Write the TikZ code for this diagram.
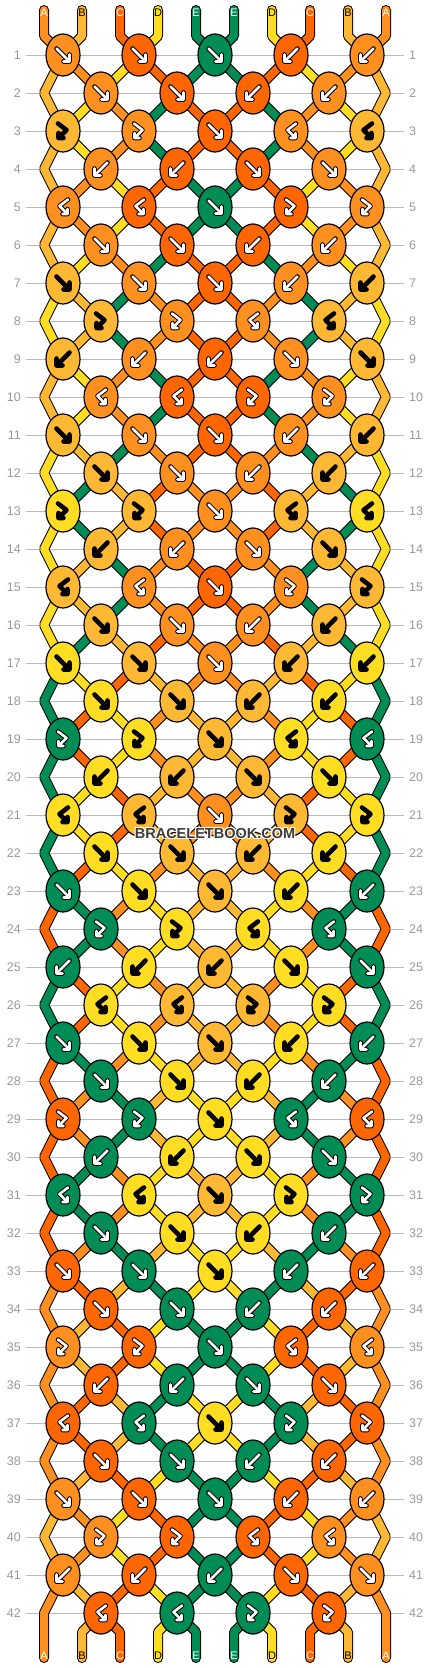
\documentclass[tikz,border=0pt]{standalone}
\usepackage{fontspec}
\setmainfont{Liberation Sans}
\usetikzlibrary{shapes.geometric}
\definecolor{cA}{HTML}{FF9020}
\definecolor{cB}{HTML}{FFB833}
\definecolor{cC}{HTML}{FF6600}
\definecolor{cD}{HTML}{FFDD22}
\definecolor{cE}{HTML}{008C55}
\colorlet{acA}{white}
\colorlet{acB}{black}
\colorlet{acC}{white}
\colorlet{acD}{black}
\colorlet{acE}{white}
\definecolor{rowgrey}{HTML}{BBBBBB}
\definecolor{numgrey}{HTML}{999999}
\definecolor{wmgrey}{HTML}{3C3C3C}
\pgfdeclarelayer{background}
\pgfsetlayers{background,main}
\def\parseS#1#2#3#4#5#6#7#8#9{%
 \expandafter\gdef\csname SL1\endcsname{#1}%
 \expandafter\gdef\csname SL2\endcsname{#2}%
 \expandafter\gdef\csname SL3\endcsname{#3}%
 \expandafter\gdef\csname SL4\endcsname{#4}%
 \expandafter\gdef\csname SL5\endcsname{#5}%
 \expandafter\gdef\csname SL6\endcsname{#6}%
 \expandafter\gdef\csname SL7\endcsname{#7}%
 \expandafter\gdef\csname SL8\endcsname{#8}%
 \expandafter\gdef\csname SL9\endcsname{#9}%
 \parseSx}
\def\parseSx#1{\expandafter\gdef\csname SL10\endcsname{#1}}
\def\parseT#1#2#3#4#5{%
 \expandafter\gdef\csname TY1\endcsname{#1}%
 \expandafter\gdef\csname TY2\endcsname{#2}%
 \expandafter\gdef\csname TY3\endcsname{#3}%
 \expandafter\gdef\csname TY4\endcsname{#4}%
 \expandafter\gdef\csname TY5\endcsname{#5}}
\newcommand\kgf[1]{\draw[gin=#1] (-6.5,-6.5) -- (6.5,6.5) (6.5,-0.5) -- (6.5,6.5) -- (0.5,6.5);}
\newcommand\kgb[1]{\draw[gin=#1] (6.5,-6.5) -- (-6.5,6.5) (-6.5,-0.5) -- (-6.5,6.5) -- (-0.5,6.5);}
\newcommand\kgF[1]{\draw[gin=#1] (-5,-7.5) -- (3.5,-1) -- (-4.5,7) (0.5,7) -- (-4.5,7) -- (-4.5,2);}
\newcommand\kgB[1]{\draw[gin=#1] (5,-7.5) -- (-3.5,-1) -- (4.5,7) (-0.5,7) -- (4.5,7) -- (4.5,2);}
\def\rowdata{1/fffbb/BADCEECDAB,2/ffbbx/BDAECCEADB,3/FFfBB/BDAECCEADB,4/bbffx/BADCEECDAB,
5/BBfFF/BADCEECDAB,6/ffbbx/BDAECCEADB,7/fffbb/DBEACCAEBD,8/FFBBx/DBEACCAEBD,
9/bbbff/BDAECCEADB,10/BBFFx/BDAECCEADB,11/fffbb/DBEACCAEBD,12/ffbbx/DEBCAACBED,
13/FFfBB/DEBCAACBED,14/bbffx/DBEACCAEBD,15/BBfFF/DBEACCAEBD,16/ffbbx/DEBCAACBED,
17/fffbb/EDCBAABCDE,18/ffbbx/ECDABBADCE,19/FFfBB/ECDABBADCE,20/bbffx/EDCBAABCDE,
21/BBfFF/EDCBAABCDE,22/ffbbx/ECDABBADCE,23/fffbb/CEADBBDAEC,24/FFBBx/CEADBBDAEC,
25/bbbff/ECDABBADCE,26/BBFFx/ECDABBADCE,27/fffbb/CEADBBDAEC,28/ffbbx/CAEBDDBEAC,
29/FFfBB/CAEBDDBEAC,30/bbffx/CEADBBDAEC,31/BBfFF/CEADBBDAEC,32/ffbbx/CAEBDDBEAC,
33/fffbb/ACBEDDEBCA,34/ffbbx/ABCDEEDCBA,35/FFfBB/ABCDEEDCBA,36/bbffx/ACBEDDEBCA,
37/BBfFF/ACBEDDEBCA,38/ffbbx/ABCDEEDCBA,39/fffbb/BADCEECDAB,40/FFBBx/BADCEECDAB,
41/bbbff/ABCDEEDCBA,42/BBFFx/ABCDEEDCBA}
\begin{document}
\begin{tikzpicture}[x=1pt,y=-1pt,
  knot/.style={ellipse, draw=black, line width=1.2pt, minimum width=34pt, minimum height=42pt, inner sep=0pt},
  str/.style={draw=black, line width=1pt, double=#1, double distance=8pt, line join=bevel},
  gin/.style={draw=#1, line width=2.6pt, line cap=round, line join=round, preaction={draw=black, line width=4.6pt, line cap=round, line join=round}},
  rowline/.style={draw=rowgrey, line width=1pt, shorten <=5pt, shorten >=5pt},
  rownum/.style={text=numgrey, font=\fontsize{12.5}{12.5}\selectfont, inner sep=0pt},
  strlab/.style={font=\fontsize{11}{11}\selectfont, inner sep=0pt},
  wm/.style={font=\bfseries\fontsize{14.5}{14.5}\selectfont, inner sep=0pt}]
\useasboundingbox (0,0) rectangle (430,1668);
% knots
\foreach \rw/\rowT/\rowS in \rowdata {
  \expandafter\parseS\rowS
  \expandafter\parseT\rowT
  \pgfmathtruncatemacro\odd{mod(\rw,2)}
  \pgfmathsetmacro\yy{17+38*\rw}
  \ifnum\odd=1 \def\nk{5}\else \def\nk{4}%
    \coordinate (K-\rw-0) at (44,\yy);
    \coordinate (K-\rw-5) at (386,\yy);
  \fi
  \foreach \k in {1,...,\nk}{
    \ifnum\odd=1
      \pgfmathtruncatemacro\ls{2*\k-1}\pgfmathsetmacro\xx{63+76*(\k-1)}%
    \else
      \pgfmathtruncatemacro\ls{2*\k}\pgfmathsetmacro\xx{101+76*(\k-1)}%
    \fi
    \pgfmathtruncatemacro\rs{\ls+1}
    \edef\ty{\csname TY\k\endcsname}
    \def\side{R}
    \if b\ty\def\side{L}\fi
    \if F\ty\def\side{L}\fi
    \if L\side \edef\kc{\csname SL\ls\endcsname}\else \edef\kc{\csname SL\rs\endcsname}\fi
    \edef\kcn{c\kc}\edef\gcn{ac\kc}
    \node[knot, fill=\kcn] (K-\rw-\k) at (\xx,\yy) {};
    \begin{scope}[shift={(K-\rw-\k.center)}]
      \csname kg\ty\endcsname{\gcn}
    \end{scope}
  }
}
% tail points
\foreach \q in {1,...,10}{
  \pgfmathsetmacro\xs{44+38*(\q-1)}
  \coordinate (T-\q) at (\xs,10);
  \coordinate (U-\q) at (\xs,36);
  \coordinate (V-\q) at (\xs,1632);
  \coordinate (W-\q) at (\xs,1658);
}
% row numbers
\foreach \rw in {1,...,42}{
  \pgfmathsetmacro\yy{17+38*\rw}
  \node[rownum, anchor=east] (L-\rw) at (21,\yy) {\rw};
  \node[rownum, anchor=west] (R-\rw) at (409,\yy) {\rw};
}
\begin{pgfonlayer}{background}
  \fill[white] (0,0) rectangle (430,1668);
  \foreach \rw in {1,...,42}{ \draw[rowline] (L-\rw.east) -- (R-\rw.west); }
  % top tails
  \def\initS{ABCDEEDCBA}
  \expandafter\parseS\initS
  \foreach \q in {1,...,10}{
    \pgfmathtruncatemacro\kcl{ceil(\q/2)}
    \edef\col{c\csname SL\q\endcsname}
    \draw[str=\col, line cap=round] (T-\q) -- (U-\q) -- (K-1-\kcl.center);
  }
  \foreach \rw/\rowT/\rowS in \rowdata {
    \expandafter\parseS\rowS
    \pgfmathtruncatemacro\rn{\rw+1}
    \pgfmathtruncatemacro\rnn{\rw+2}
    \pgfmathtruncatemacro\odd{mod(\rw,2)}
    \ifnum\rw<42
      \foreach \q in {2,...,9}{
        \pgfmathtruncatemacro\kcl{ceil(\q/2)}
        \pgfmathtruncatemacro\kfl{floor(\q/2)}
        \edef\col{c\csname SL\q\endcsname}
        \ifnum\odd=1
          \draw[str=\col] (K-\rw-\kcl.center) -- (K-\rn-\kfl.center);
        \else
          \draw[str=\col] (K-\rw-\kfl.center) -- (K-\rn-\kcl.center);
        \fi
      }
    \fi
    \ifnum\odd=1
      \edef\colL{c\csname SL1\endcsname}\edef\colR{c\csname SL10\endcsname}
      \ifnum\rw<41
        \draw[str=\colL] (K-\rw-1.center) -- (K-\rn-0) -- (K-\rnn-1.center);
        \draw[str=\colR] (K-\rw-5.center) -- (K-\rn-5) -- (K-\rnn-5.center);
      \else
        \draw[str=\colL, line cap=round] (K-\rw-1.center) -- (K-\rn-0) -- (W-1);
        \draw[str=\colR, line cap=round] (K-\rw-5.center) -- (K-\rn-5) -- (W-10);
      \fi
    \fi
    \ifnum\rw=42
      \foreach \q in {2,...,9}{
        \pgfmathtruncatemacro\kfl{floor(\q/2)}
        \edef\col{c\csname SL\q\endcsname}
        \draw[str=\col, line cap=round] (K-42-\kfl.center) -- (V-\q) -- (W-\q);
      }
    \fi
  }
\end{pgfonlayer}
% string labels
\def\initS{ABCDEEDCBA}
\expandafter\parseS\initS
\foreach \q in {1,...,10}{
  \edef\lt{\csname SL\q\endcsname}
  \edef\lc{ac\lt}
  \node[strlab, text=\lc] (TL-\q) at ([yshift=-3pt]T-\q) {\lt};
  \node[strlab, text=\lc] (BL-\q) at ([yshift=2.3pt]W-\q) {\lt};
}
% watermark
\node[wm, text=white] (wm1) at (214,832) {BRACELETBOOK.COM};
\node[wm, text=white] (wm2) at (216,834) {BRACELETBOOK.COM};
\node[wm, text=white] (wm3) at (214,834) {BRACELETBOOK.COM};
\node[wm, text=white] (wm4) at (216,832) {BRACELETBOOK.COM};
\node[wm, text=wmgrey] (wm) at (215,833) {BRACELETBOOK.COM};
\end{tikzpicture}
\end{document}
